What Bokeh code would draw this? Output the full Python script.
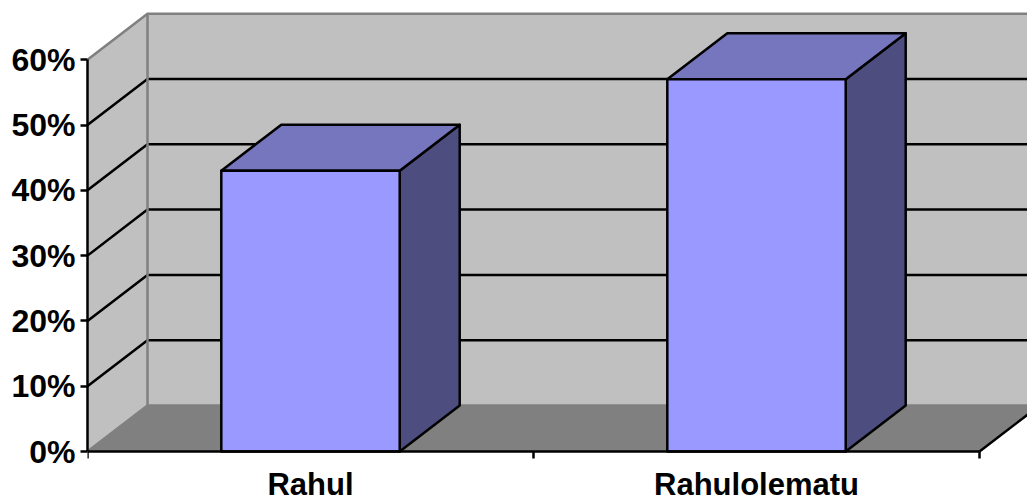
from bokeh.plotting import figure
from bokeh.embed import file_html
from bokeh.resources import INLINE
from bokeh.models import FixedTicker, Range1d
from bokeh.core.properties import value

categories = ["Rahul", "Rahulolematu"]
values = [43, 57]
y_ticks = [0, 10, 20, 30, 40, 50, 60]
y_labels = ["0%", "10%", "20%", "30%", "40%", "50%", "60%"]

WALL = "#C0C0C0"
FLOOR = "#808080"
EDGE = "#808080"
FRONT = "#9999FF"
TOP = "#7676BE"
SIDE = "#4D4D80"

W, H = 1027, 497
LEFT, BOTTOM = 87, 46
PX_X, PX_Y = 446.0, 6.53
DX, DY = 60 / PX_X, 46 / PX_Y
BAR_PAD = 0.3
N = len(categories)
YMAX = y_ticks[-1]
LW = 2.5
FONT = "Liberation Sans"

p = figure(width=W, height=H, output_backend="svg", toolbar_location=None,
           x_range=Range1d(0, (W - LEFT) / PX_X),
           y_range=Range1d(-BOTTOM / PX_Y, (H - BOTTOM) / PX_Y),
           min_border_left=LEFT, min_border_bottom=0, min_border_top=0, min_border_right=0)
p.outline_line_color = None
p.grid.visible = False
p.background_fill_color = "white"

# back wall, side wall, floor
p.patch([DX, N + DX, N + DX, DX], [DY, DY, YMAX + DY, YMAX + DY], fill_color=WALL, line_color=None)
p.patch([0, DX, DX, 0], [0, DY, YMAX + DY, YMAX], fill_color=WALL, line_color=None)
p.patch([0, N, N + DX, DX], [0, 0, DY, DY], fill_color=FLOOR, line_color=None)

# grid lines on the walls
for v in y_ticks[1:-1]:
    p.line([0, DX, N + DX], [v, v + DY, v + DY], line_color="black", line_width=LW)

# wall edges
p.line([0, DX, N + DX], [YMAX, YMAX + DY, YMAX + DY], line_color=EDGE, line_width=LW)
p.line([0, DX, N + DX], [0, DY, DY], line_color=EDGE, line_width=LW)
p.line([DX, DX], [DY, YMAX + DY], line_color=EDGE, line_width=LW)
p.line([N, N + DX], [0, DY], line_color="black", line_width=LW)

# 3D bars
for i, v in enumerate(values):
    x0, x1 = i + BAR_PAD, i + 1 - BAR_PAD
    p.patch([x1, x1 + DX, x1 + DX, x1], [0, DY, v + DY, v], fill_color=SIDE,
            line_color="black", line_width=LW, line_join="round")
    p.patch([x0, x1, x1 + DX, x0 + DX], [v, v, v + DY, v + DY], fill_color=TOP,
            line_color="black", line_width=LW, line_join="round")
    p.patch([x0, x1, x1, x0], [0, 0, v, v], fill_color=FRONT,
            line_color="black", line_width=LW, line_join="round")

ya = p.yaxis[0]
ya.ticker = FixedTicker(ticks=y_ticks)
ya.major_label_overrides = dict(zip(y_ticks, y_labels))
ya.bounds = (y_ticks[0], y_ticks[-1])
ya.axis_line_color = "black"
ya.axis_line_width = LW
ya.major_tick_line_color = "black"
ya.major_tick_line_width = LW
ya.major_tick_in = 0
ya.major_tick_out = 7
ya.minor_tick_line_color = None
ya.major_label_standoff = 5
ya.major_label_text_font = FONT
ya.major_label_text_font_style = "bold"
ya.major_label_text_font_size = "32px"
ya.major_label_text_color = "black"

xa = p.xaxis[0]
xa.ticker = FixedTicker(ticks=[], minor_ticks=list(range(N + 1)))
xa.bounds = (0, N)
xa.fixed_location = 0
xa.axis_line_color = "black"
xa.axis_line_width = LW
xa.major_tick_line_color = None
xa.major_tick_in = 0
xa.major_tick_out = 0
xa.minor_tick_line_color = "black"
xa.minor_tick_line_width = LW
xa.minor_tick_in = 0
xa.minor_tick_out = 7
xa.major_label_standoff = 0

# category names below the axis
p.text(x=[i + 0.5 for i in range(N)], y=[0] * N, text=categories, y_offset=33,
       text_align="center", text_baseline="alphabetic", text_font=value(FONT),
       text_font_style="bold", text_font_size="31px", text_color="black")

open("out.html", "w").write(file_html(p, INLINE))
